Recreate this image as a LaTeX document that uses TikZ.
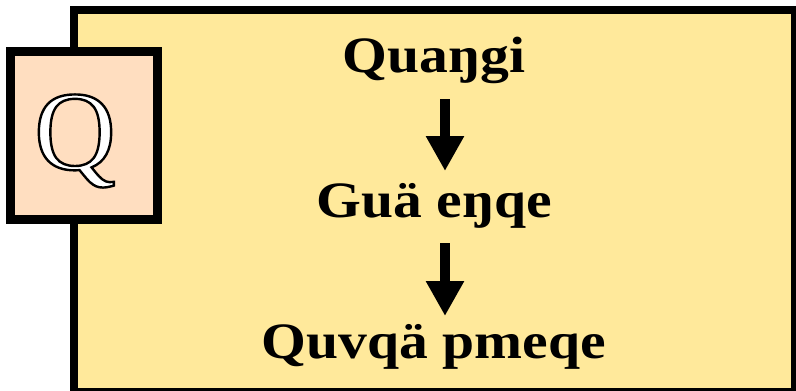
\documentclass[tikz,border=0pt]{standalone}
\usepackage{fontspec}
\setmainfont{Liberation Serif}
\definecolor{panelyellow}{HTML}{FFE99B}
\definecolor{peach}{HTML}{FFDEC0}
\usetikzlibrary{arrows.meta}
\newcommand{\outlinedletter}[1]{\special{pdf:literal direct 2 Tr 2.4 w 0 G 1 g}#1\special{pdf:literal direct 0 Tr 0 g 0 G}}
\begin{document}
\begin{tikzpicture}[x=1pt,y=-1pt,
  stagetext/.style={font=\bfseries\fontsize{51}{51}\selectfont, inner sep=0pt, anchor=base, xscale=1.13},
  flowarrow/.style={line width=10pt, -{Triangle[length=35pt,width=36pt]}}]
\useasboundingbox (0,0) rectangle (796,391);
\draw[line width=8pt, fill=panelyellow] (74,9.5) rectangle (795,392);
\node[draw, line width=9pt, fill=peach, minimum width=147pt, minimum height=168.5pt, inner sep=0pt] (qbox) at (84,135.25) {};
\node (qletter) at (75,141) {\fontsize{113}{113}\selectfont\outlinedletter{Q}};
\node[stagetext] (s1) at (434,72) {Quaŋgi};
\node[stagetext] (s2) at (434,217) {Guä eŋqe};
\node[stagetext] (s3) at (434,358) {Quvqä pmeqe};
\coordinate (a1s) at (445,99);
\coordinate (a1e) at (445,171);
\coordinate (a2s) at (445,243);
\coordinate (a2e) at (445,316);
\draw[flowarrow] (a1s) -- (a1e);
\draw[flowarrow] (a2s) -- (a2e);
\end{tikzpicture}
\end{document}
